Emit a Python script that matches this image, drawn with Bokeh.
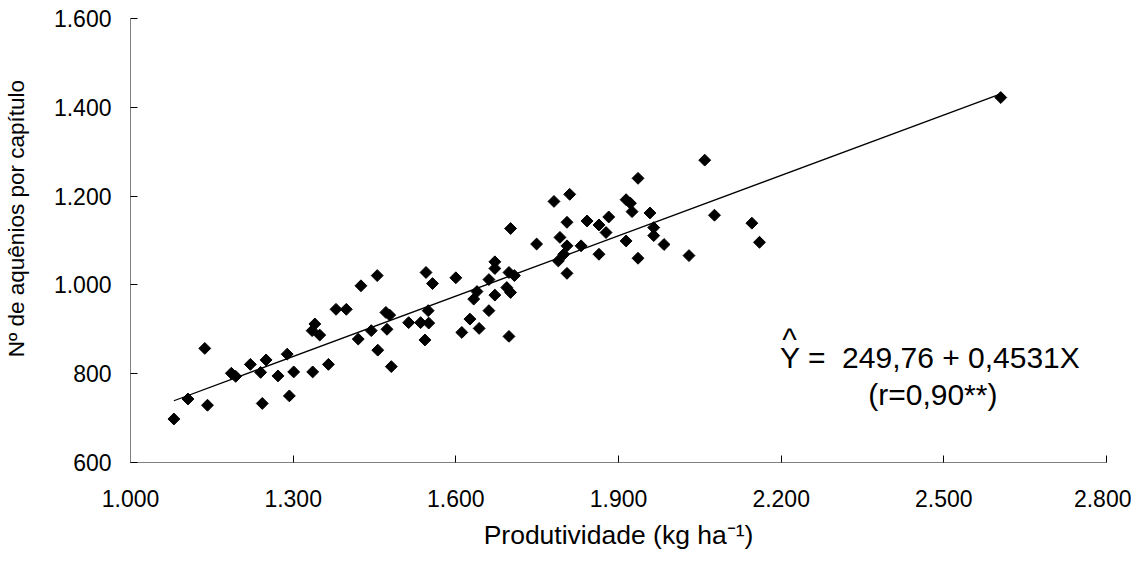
import math
from bokeh.plotting import figure
from bokeh.models import Range1d, FixedTicker, Label
from bokeh.embed import file_html
from bokeh.resources import INLINE

# ---- data ----
produtividade = [1080, 1106, 1137, 1142, 1186, 1194, 1221, 1240, 1250, 1243,
                 1272, 1289, 1293, 1301, 1336, 1335, 1340, 1349, 1365, 1379,
                 1398, 1420, 1425, 1444, 1455, 1456, 1471, 1478, 1473, 1481,
                 1513, 1535, 1543, 1545, 1550, 1549, 1557, 1600, 1611, 1626,
                 1643, 1633, 1639, 1661, 1661, 1672, 1672, 1672, 1694, 1701,
                 1698, 1708, 1698, 1701, 1749, 1781, 1810, 1792, 1805, 1805,
                 1799, 1789, 1805, 1831, 1842, 1864, 1882, 1877, 1864, 1914,
                 1922, 1925, 1958, 1914, 1936, 1965, 1965, 1984, 2030, 2077,
                 1936, 2059, 2146, 2160, 2605]
aquenios = [698, 743, 857, 729, 801, 794, 821, 803, 831, 733,
            795, 844, 750, 804, 804, 897, 912, 887, 821, 945,
            945, 878, 998, 897, 1021, 853, 938, 932, 900, 816,
            915, 915, 876, 1028, 914, 942, 1003, 1016, 893, 923,
            902, 968, 985, 1012, 942, 1052, 1037, 977, 994, 983,
            1028, 1021, 884, 1127, 1092, 1188, 1204, 1107, 1141, 1088,
            1069, 1054, 1026, 1088, 1144, 1135, 1153, 1118, 1069, 1192,
            1184, 1165, 1162, 1099, 1060, 1129, 1111, 1091, 1066, 1157,
            1240, 1281, 1139, 1096, 1422]

x_ticks = [1000, 1300, 1600, 1900, 2200, 2500, 2800]
x_tick_labels = ["1.000", "1.300", "1.600", "1.900", "2.200", "2.500", "2.800"]
y_ticks = [600, 800, 1000, 1200, 1400, 1600]
y_tick_labels = ["600", "800", "1.000", "1.200", "1.400", "1.600"]

intercept = 249.76
slope = 0.4531
equation_text = "Y =\u00a0 249,76 + 0,4531X"
r_text = "(r=0,90**)"
x_title = "Produtividade (kg ha\u207b\u00b9)"
y_title = "N\u00ba de aqu\u00eanios por cap\u00edtulo"

FONT = "Liberation Sans"

p = figure(frame_width=976, frame_height=444,
           x_range=Range1d(x_ticks[0], x_ticks[-1]),
           y_range=Range1d(y_ticks[0], y_ticks[-1]),
           output_backend="svg", toolbar_location=None,
           min_border_left=129, min_border_right=25,
           min_border_top=18, min_border_bottom=96)
p.outline_line_color = None
p.grid.visible = False
p.background_fill_color = "white"
p.border_fill_color = "white"

p.xaxis.ticker = FixedTicker(ticks=x_ticks)
p.yaxis.ticker = FixedTicker(ticks=y_ticks)
p.xaxis.major_label_overrides = {t: l for t, l in zip(x_ticks, x_tick_labels)}
p.yaxis.major_label_overrides = {t: l for t, l in zip(y_ticks, y_tick_labels)}

for ax in (p.xaxis, p.yaxis):
    ax.axis_line_color = "#808080"
    ax.axis_line_width = 1
    ax.major_tick_line_color = "black"
    ax.major_tick_in = 7
    ax.major_tick_out = 0
    ax.minor_tick_line_color = None
    ax.major_label_text_font = FONT
    ax.major_label_text_font_size = "23px"
    ax.major_label_text_color = "black"
    ax.axis_label_text_font = FONT
    ax.axis_label_text_font_style = "normal"
    ax.axis_label_text_color = "black"

p.xaxis.axis_label = x_title
p.xaxis.axis_label_text_font_size = "26.5px"
p.xaxis.major_label_standoff = 27
p.xaxis.axis_label_standoff = 10

# y title sits a little above the frame centre in the reference: leading
# non-breaking spaces shift the centred label upwards
p.yaxis.axis_label = "\u00a0" * 7 + y_title
p.yaxis.axis_label_text_font_size = "22.5px"
p.yaxis.major_label_standoff = 19
p.yaxis.axis_label_standoff = 22

# regression line over the data range
x0, x1 = min(produtividade), max(produtividade)
p.line([x0, x1], [intercept + slope * x0, intercept + slope * x1],
       line_color="black", line_width=1.3)

p.scatter(produtividade, aquenios, marker="square", size=8.4, angle=math.pi / 4,
          fill_color="black", line_color="black")

p.add_layout(Label(x=2215.6, y=878, text="^", text_font=FONT, text_font_size="31px",
                   text_align="center", text_baseline="alphabetic", text_color="black"))
p.add_layout(Label(x=2198, y=836.5, text=equation_text, text_font=FONT, text_font_size="30px",
                   text_align="left", text_baseline="alphabetic", text_color="black"))
p.add_layout(Label(x=2479.7, y=754, text=r_text, text_font=FONT, text_font_size="30px",
                   text_align="center", text_baseline="alphabetic", text_color="black"))

open("out.html", "w").write(file_html(p, INLINE))
